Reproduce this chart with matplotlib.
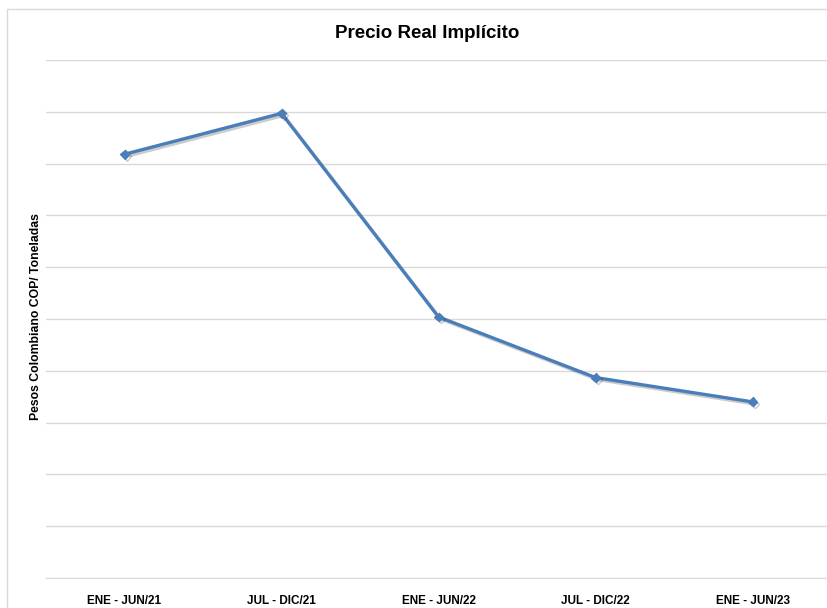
import matplotlib
matplotlib.use("Agg")
import matplotlib.pyplot as plt
import matplotlib.patheffects as pe
from matplotlib.lines import Line2D

categories = ["ENE - JUN/21", "JUL - DIC/21", "ENE - JUN/22", "JUL - DIC/22", "ENE - JUN/23"]
precio = [8.18, 8.97, 5.04, 3.87, 3.40]

W, H = 828, 608
fig = plt.figure(figsize=(W / 100, H / 100), dpi=100)
fig.patch.set_facecolor("white")

# chart frame (top and left edges visible)
fig.lines.append(Line2D([7 / W, 7 / W, 1.0], [0, 1 - 9 / H, 1 - 9 / H], transform=fig.transFigure,
                        color="#d9d9d9", linewidth=1.0))

left, right, bottom, top = 46, 831, 578, 60
ax = fig.add_axes([left / W, (H - bottom) / H, (right - left) / W, (bottom - top) / H])
ax.set_facecolor("none")
x = list(range(len(categories)))
ax.plot(x, precio, color="#4a7ebb", linewidth=2.4, marker="D", markersize=4.5,
        path_effects=[pe.SimpleLineShadow(offset=(1.5, -1.5), shadow_color="#000000", alpha=0.2),
                      pe.Normal()], zorder=3)
ax.set_xlim(-0.5, len(categories) - 0.5)
ax.set_ylim(0, 10)
ax.set_yticks(range(0, 11))
ax.set_yticklabels([])
ax.tick_params(axis="y", length=0)
ax.grid(axis="y", color="#d9d9d9", linewidth=1.0)
ax.set_axisbelow(True)
ax.set_xticks(x)
ax.set_xticklabels(categories, fontsize=8.5, fontweight="bold", family="Liberation Sans")
ax.tick_params(axis="x", length=0, pad=12)
for s in ["top", "right", "left"]:
    ax.spines[s].set_visible(False)
ax.spines["bottom"].set_color("#d9d9d9")

fig.text((333 + 522) / 2 / W, 1 - 33 / H, "Precio Real Implícito", ha="center", va="center",
         fontsize=13.5, fontweight="bold", family="Liberation Sans")
fig.text(36 / W, 1 - 317 / H, "Pesos Colombiano COP/ Toneladas", rotation=90, ha="center",
         va="center", fontsize=8.8, fontweight="bold", family="Liberation Sans")

fig.savefig("out.png", dpi=100)
